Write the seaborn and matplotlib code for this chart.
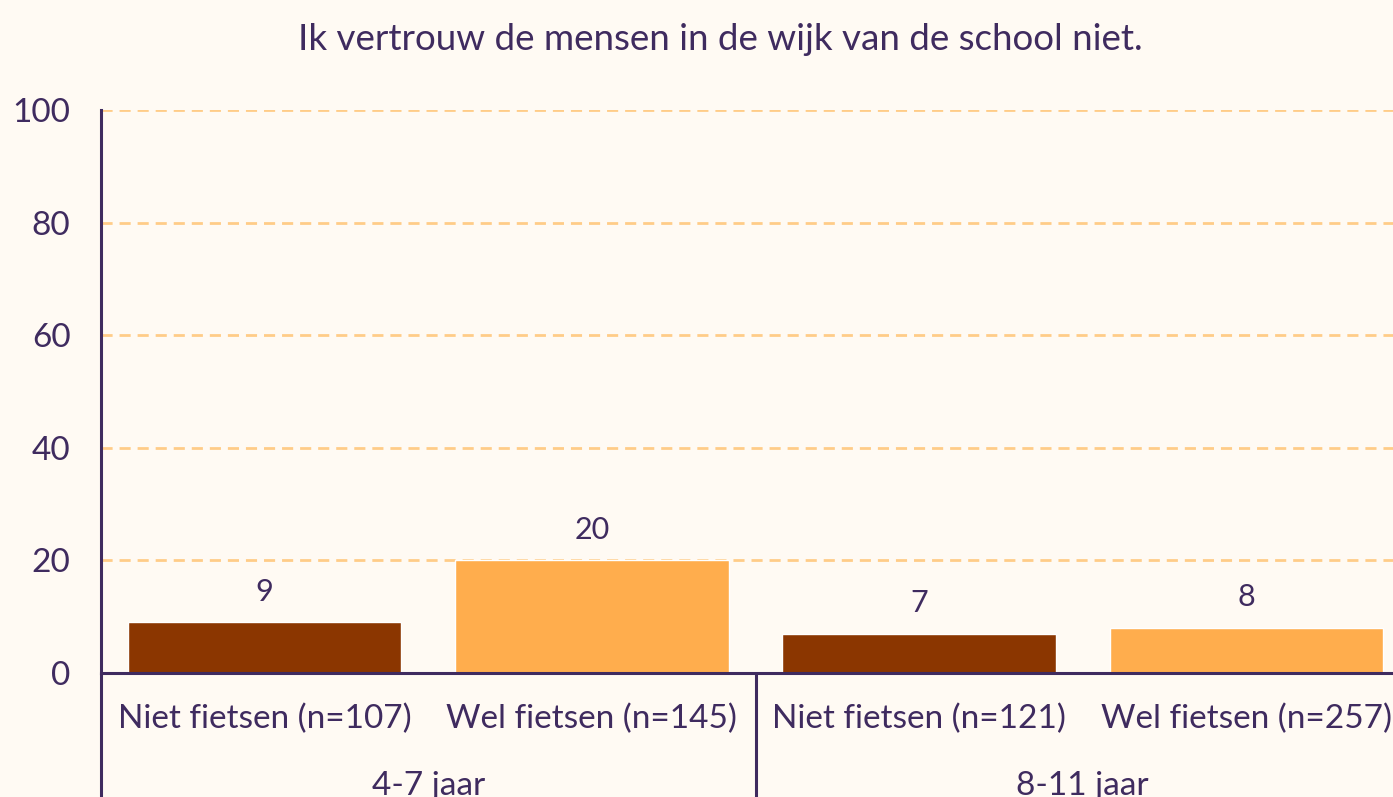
import pandas as pd
import seaborn as sns
from matplotlib import pyplot as plt
from matplotlib import transforms

# data
age_groups = ["4-7 jaar", "8-11 jaar"]
bar_labels = ["Niet fietsen (n=107)", "Wel fietsen (n=145)",
              "Niet fietsen (n=121)", "Wel fietsen (n=257)"]
bar_values = [9, 20, 7, 8]
bar_colors = ["#8B3600", "#FFAD4D", "#8B3600", "#FFAD4D"]

bg = "#FFFAF3"
ink = "#3F2B5F"
grid_col = "#FFCC88"

sns.set_theme(style="white")
plt.rcParams['font.family'] = ['Lato', 'DejaVu Sans']

df = pd.DataFrame({"label": bar_labels, "value": bar_values})

fig = plt.figure(figsize=(13.93, 7.97), dpi=100, facecolor=bg)
ax = fig.add_axes([101 / 1393, 124 / 797, 1309 / 1393, 563 / 797])
ax.set_facecolor(bg)

sns.barplot(data=df, x="label", y="value", hue="label", palette=bar_colors,
            legend=False, width=0.835, saturation=1, ax=ax, zorder=2)

ax.set_xlim(-0.5, 3.5)
ax.set_ylim(0, 100)
ax.set_yticks([0, 20, 40, 60, 80, 100])
ax.set_xlabel("")
ax.set_ylabel("")

# dashed grid
for yv in [20, 40, 60, 80, 100]:
    ax.axhline(yv, color=grid_col, lw=2, ls=(0, (4, 2.5)), zorder=1)

for s in ["top", "right"]:
    ax.spines[s].set_visible(False)
ax.spines["left"].set_color(ink)
ax.spines["left"].set_linewidth(2.2)
ax.spines["bottom"].set_color(ink)
ax.spines["bottom"].set_linewidth(2.2)
ax.spines["bottom"].set_zorder(3)

ax.tick_params(axis="y", length=0, pad=22, labelsize=24, labelcolor=ink)
ax.tick_params(axis="x", length=0, pad=22, labelsize=24, labelcolor=ink)

# value labels
for cont in ax.containers:
    ax.bar_label(cont, fmt="%g", padding=12, fontsize=22, color=ink,
                 fontweight="normal")

# group labels and separators below the axis
trans = transforms.blended_transform_factory(ax.transData, ax.transAxes)
for i, grp in enumerate(age_groups):
    ax.text(2 * i + 0.5, -0.2, grp, transform=trans, ha="center", va="center",
            fontsize=24, color=ink, clip_on=False)
for xv in [-0.5, 1.5]:
    ax.plot([xv, xv], [0, -0.3], transform=trans, color=ink, lw=2.2,
            clip_on=False, solid_capstyle="butt")

fig.text(720 / 1393, 1 - 40 / 797, "Ik vertrouw de mensen in de wijk van de school niet.",
         ha="center", va="center", fontsize=26.5, color=ink)

fig.savefig("out.png", dpi=100, facecolor=bg)
